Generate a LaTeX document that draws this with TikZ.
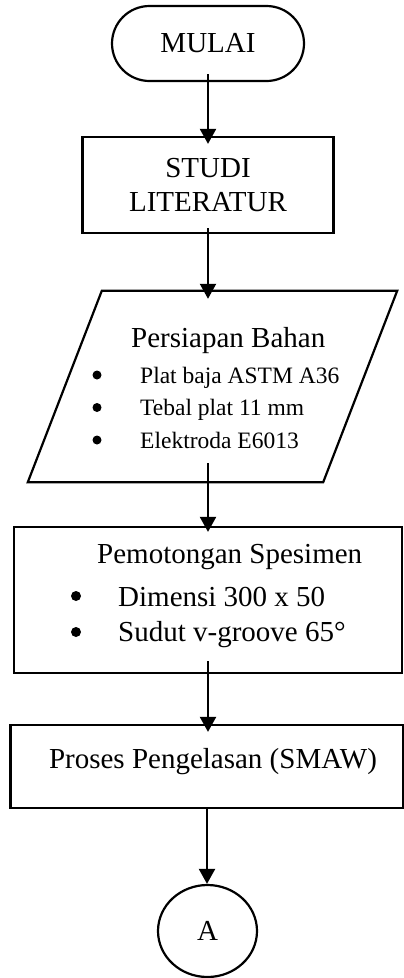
\documentclass[tikz,border=0pt]{standalone}
\usepackage{fontspec}
\setmainfont{Liberation Serif}
\usetikzlibrary{arrows.meta,shapes.geometric}
\begin{document}
\begin{tikzpicture}[x=1pt,y=-1pt,
  shapeline/.style={draw, line width=2.2pt},
  flow/.style={line width=2.2pt, -{Triangle[length=15pt,width=16pt]}},
  big/.style={font=\fontsize{29}{34}\selectfont},
  small/.style={font=\fontsize{23.5}{28}\selectfont},
  txt/.style={inner sep=0pt, anchor=base west},
  centred/.style={inner sep=0pt, anchor=base},
  bulletmark/.style={circle, fill, inner sep=0pt, minimum size=#1},
  bulletmark/.default=9pt,
]
\useasboundingbox (0,0) rectangle (404,978);

% start terminal
\node[shapeline, rounded corners=37.5pt, minimum width=192pt, minimum height=75pt,
      inner sep=0pt, big] (mulai) at (208,43.5) {MULAI};

% literature study
\node[shapeline, minimum width=251pt, minimum height=96pt, align=center, big]
  (studi) at (208,185) {STUDI\\LITERATUR};

% material preparation (input/output parallelogram)
\node[minimum width=295pt, minimum height=191pt, inner sep=0pt] (bahan) at (212.5,386.5) {};
\draw[line width=2.2pt, line join=miter]
  ([xshift=37pt]bahan.north west) -- ([xshift=37pt]bahan.north east)
  -- ([xshift=-37pt]bahan.south east) -- ([xshift=-37pt]bahan.south west) -- cycle;
\node[txt, big] (bahan-t) at (131,347) {Persiapan Bahan};
\node[bulletmark] (bahan-d1) at (97,375) {};
\node[bulletmark] (bahan-d2) at (97,407.5) {};
\node[bulletmark] (bahan-d3) at (97,440) {};
\node[txt, small] (bahan-i1) at (140,383) {Plat baja ASTM A36};
\node[txt, small] (bahan-i2) at (140,415.5) {Tebal plat 11 mm};
\node[txt, small] (bahan-i3) at (140,448) {Elektroda E6013};

% specimen cutting
\node[shapeline, minimum width=388pt, minimum height=146pt] (potong) at (208,600) {};
\node[txt, big] (potong-t) at (97,563) {Pemotongan Spesimen};
\node[bulletmark=10pt] (potong-d1) at (76,596) {};
\node[bulletmark=10pt] (potong-d2) at (76,632) {};
\node[txt, big] (potong-i1) at (118,606) {Dimensi 300 x 50};
\node[txt, big] (potong-i2) at (118,641) {Sudut v-groove 65°};

% welding process
\node[shapeline, minimum width=393pt, minimum height=83pt] (proses) at (207,766.5) {};
\node[centred, big] (proses-t) at (213,768) {Proses Pengelasan (SMAW)};

% off-page connector
\node[shapeline, ellipse, minimum width=99pt, minimum height=92pt, inner sep=0pt, big]
  (konektor) at (207.5,931) {A};

% connectors
\draw[flow, shorten <=-8pt, shorten >=-8pt] (mulai.south) -- (mulai.south |- studi.north);
\draw[flow, shorten <=-6pt, shorten >=-8pt] (studi.south) -- (studi.south |- bahan.north);
\draw[flow, shorten <=-19pt, shorten >=-6pt] (bahan.south -| studi.south) -- (studi.south |- potong.north);
\draw[flow, shorten <=-13pt, shorten >=-8pt] (potong.south) -- (potong.south |- proses.north);
\draw[flow] (proses.south) -- (proses.south |- konektor.north);
\end{tikzpicture}
\end{document}
